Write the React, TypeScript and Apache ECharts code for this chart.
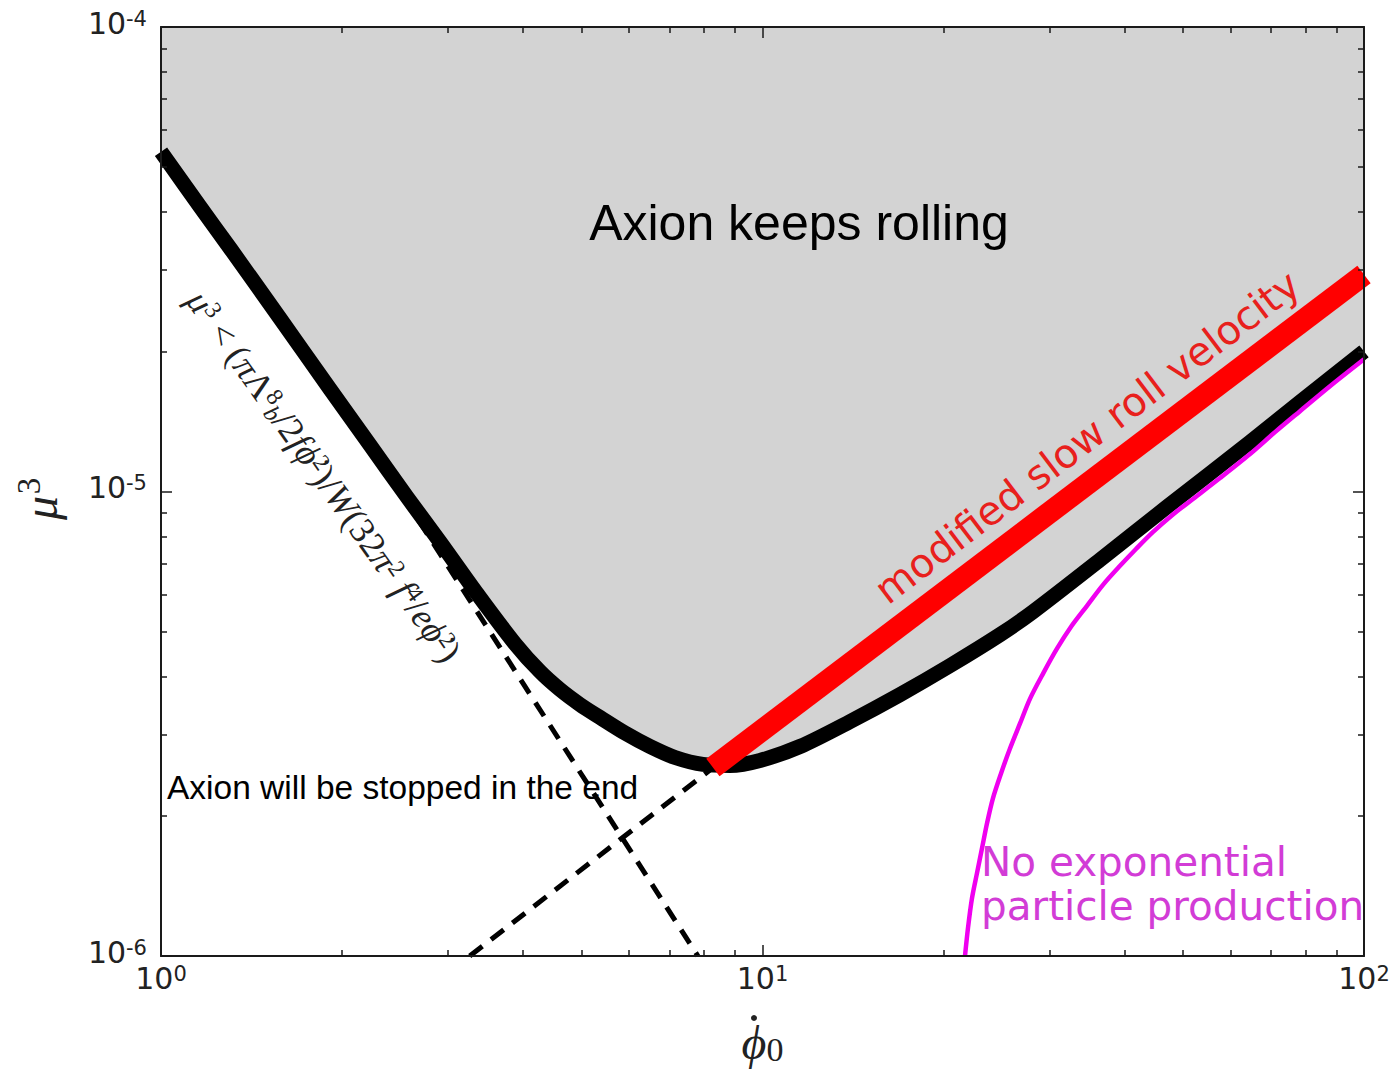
import React, { useEffect, useRef } from 'react';
import * as echarts from 'echarts';

// Axis decades and their exponent labels
const xDecades = [1, 10, 100];
const xExponents = ['0', '1', '2'];
const yDecades = [1e-6, 1e-5, 1e-4];
const yExponents = ['-6', '-5', '-4'];
const xMinor = [2, 3, 4, 5, 6, 7, 8, 9, 20, 30, 40, 50, 60, 70, 80, 90];
const yMinor = [2e-6, 3e-6, 4e-6, 5e-6, 6e-6, 7e-6, 8e-6, 9e-6, 2e-5, 3e-5, 4e-5, 5e-5, 6e-5, 7e-5, 8e-5, 9e-5];

// Boundary between "keeps rolling" and "stopped" regions
const boundaryX = [1, 1.161, 1.3073, 1.5771, 1.9097, 2.2261, 2.5645, 2.9103, 3.3651, 3.8771, 4.2668, 4.6058, 4.9724, 5.3679, 5.9075, 6.5022, 7.1554, 7.9626, 8.8313, 9.9047, 11.542, 13.977, 16.93, 20.5, 24.83, 28.17, 36.4, 47.03, 64.64, 78.27, 100];
const boundaryY = [5.389e-5, 4.104e-5, 3.319e-5, 2.359e-5, 1.661e-5, 1.2587e-5, 9.731e-6, 7.788e-6, 5.992e-6, 4.703e-6, 4.095e-6, 3.746e-6, 3.478e-6, 3.263e-6, 3.02e-6, 2.825e-6, 2.675e-6, 2.585e-6, 2.572e-6, 2.636e-6, 2.825e-6, 3.197e-6, 3.654e-6, 4.218e-6, 4.918e-6, 5.51e-6, 7.126e-6, 9.262e-6, 1.277e-5, 1.557e-5, 2.004e-5];

// Modified slow-roll velocity line and its dashed continuation
const slowRollX = [8.27, 100];
const slowRollY = [2.547e-6, 2.932e-5];
const slowRollExtX = [3.26, 8.2];
const slowRollExtY = [1e-6, 2.52e-6];

// Dashed asymptote of the left branch
const leftAsymX = [2.269, 7.81];
const leftAsymY = [1.213e-5, 1e-6];

// Onset of exponential particle production
const particleX = [21.71, 21.96, 22.3, 22.73, 23.17, 23.62, 24.16, 24.92, 25.79, 26.8, 27.85, 29.27, 30.87, 32.58, 34.63, 36.82, 39.3, 41.78, 44.6, 48.13, 51.96, 57.63, 64.64, 71.13, 78.27, 87.78, 100];
const particleY = [1e-6, 1.1487e-6, 1.332e-6, 1.508e-6, 1.706e-6, 1.931e-6, 2.185e-6, 2.472e-6, 2.797e-6, 3.167e-6, 3.582e-6, 4.055e-6, 4.588e-6, 5.116e-6, 5.675e-6, 6.296e-6, 6.918e-6, 7.521e-6, 8.185e-6, 8.925e-6, 9.636e-6, 1.069e-5, 1.204e-5, 1.342e-5, 1.489e-5, 1.685e-5, 1.926e-5];

const zip = (xs: number[], ys: number[]) => xs.map((x, i) => [x, ys[i]]);

const SANS = "'DejaVu Sans', sans-serif";
const HELV = "'Liberation Sans', Arial, sans-serif";
const SERIF = "'Liberation Serif', 'DejaVu Serif', serif";
const AXIS_COLOR = '#1a1a1a';

const tickRich = {
  b: { fontFamily: SANS, fontSize: 30, color: '#222' },
  s: { fontFamily: SANS, fontSize: 21, color: '#222', verticalAlign: 'top' },
};

function makeXAxis(position: 'bottom' | 'top', minor: boolean, withLabels: boolean) {
  return {
    type: 'log',
    logBase: 10,
    min: 1,
    max: 100,
    position,
    z: 5,
    axisLine: { show: !minor, onZero: false, lineStyle: { color: AXIS_COLOR, width: 2 } },
    axisTick: {
      show: true,
      inside: true,
      length: minor ? 6 : 11,
      customValues: minor ? xMinor : xDecades,
      lineStyle: { color: AXIS_COLOR, width: 1.5 },
    },
    axisLabel: withLabels
      ? {
          show: true,
          customValues: xDecades,
          margin: 7,
          formatter: (v: number) => {
            const i = xDecades.findIndex((d) => Math.abs(d - v) / d < 1e-6);
            return `{b|10}{s|${xExponents[i]}}`;
          },
          rich: tickRich,
        }
      : { show: false },
    splitLine: { show: false },
    minorTick: { show: false },
    ...(withLabels
      ? {
          name: '{p|ϕ}{s|0}',
          nameLocation: 'middle',
          nameGap: 62,
          nameTextStyle: {
            rich: {
              p: { fontFamily: SERIF, fontStyle: 'italic', fontSize: 48, color: '#222' },
              s: { fontFamily: SERIF, fontSize: 34, color: '#222', verticalAlign: 'bottom' },
            },
          },
        }
      : {}),
  };
}

function makeYAxis(position: 'left' | 'right', minor: boolean, withLabels: boolean) {
  return {
    type: 'log',
    logBase: 10,
    min: 1e-6,
    max: 1e-4,
    position,
    z: 5,
    axisLine: { show: !minor, onZero: false, lineStyle: { color: AXIS_COLOR, width: 2 } },
    axisTick: {
      show: true,
      inside: true,
      length: minor ? 6 : 11,
      customValues: minor ? yMinor : yDecades,
      lineStyle: { color: AXIS_COLOR, width: 1.5 },
    },
    axisLabel: withLabels
      ? {
          show: true,
          customValues: yDecades,
          margin: 14,
          padding: [0, 0, 8, 0],
          formatter: (v: number) => {
            const i = yDecades.findIndex((d) => Math.abs(d - v) / d < 1e-6);
            return `{b|10}{s|${yExponents[i]}}`;
          },
          rich: tickRich,
        }
      : { show: false },
    splitLine: { show: false },
    minorTick: { show: false },
  };
}

export default function App() {
  const ref = useRef<HTMLDivElement>(null);

  useEffect(() => {
    document.body.style.margin = '0';
    if (!ref.current) return;
    const chart = echarts.init(ref.current, null, { renderer: 'svg' });

    const boundary = zip(boundaryX, boundaryY);

    chart.setOption({
      animation: false,
      backgroundColor: '#ffffff',
      grid: {
        left: 161,
        top: 27,
        width: 1203,
        height: 931,
        show: true,
        backgroundColor: '#d3d3d3',
        borderWidth: 0,
      },
      xAxis: [
        makeXAxis('bottom', false, true),
        makeXAxis('bottom', true, false),
        makeXAxis('top', false, false),
        makeXAxis('top', true, false),
      ],
      yAxis: [
        makeYAxis('left', false, true),
        makeYAxis('left', true, false),
        makeYAxis('right', false, false),
        makeYAxis('right', true, false),
      ],
      series: [
        {
          // white region below the boundary
          type: 'line',
          name: 'stopped region',
          data: boundary,
          smooth: 0.3,
          symbol: 'none',
          lineStyle: { width: 0, opacity: 0 },
          areaStyle: { color: '#ffffff', opacity: 1, origin: 'start' },
          silent: true,
        },
        {
          type: 'line',
          name: 'left asymptote',
          data: zip(leftAsymX, leftAsymY),
          symbol: 'none',
          lineStyle: { color: '#000', width: 5, type: [16, 11], cap: 'butt' },
        },
        {
          type: 'line',
          name: 'slow roll extension',
          data: zip(slowRollExtX, slowRollExtY),
          symbol: 'none',
          lineStyle: { color: '#000', width: 5, type: [16, 11], cap: 'butt' },
        },
        {
          type: 'line',
          name: 'boundary',
          data: boundary,
          smooth: 0.3,
          symbol: 'none',
          lineStyle: { color: '#000', width: 15, cap: 'butt', join: 'round' },
        },
        {
          type: 'line',
          name: 'modified slow roll velocity',
          data: zip(slowRollX, slowRollY),
          symbol: 'none',
          lineStyle: { color: '#ff0000', width: 22, cap: 'butt' },
        },
        {
          type: 'line',
          name: 'particle production',
          data: zip(particleX, particleY),
          smooth: 0.3,
          symbol: 'none',
          lineStyle: { color: '#f000f0', width: 4.5, join: 'round' },
        },
      ],
      graphic: [
        {
          // time-derivative dot over the x-axis symbol
          type: 'circle',
          shape: { cx: 754, cy: 1018, r: 3 },
          style: { fill: '#222' },
          z: 50,
        },
        {
          // y-axis title: mu cubed
          type: 'text',
          x: 40,
          y: 508,
          rotation: Math.PI / 2,
          z: 50,
          style: {
            text: 'μ',
            font: `italic 48px ${SERIF}`,
            fill: '#222',
            align: 'center',
            verticalAlign: 'middle',
          },
        },
        {
          type: 'text',
          x: 29,
          y: 486,
          rotation: Math.PI / 2,
          z: 50,
          style: {
            text: '3',
            font: `33px ${SERIF}`,
            fill: '#222',
            align: 'center',
            verticalAlign: 'middle',
          },
        },
        {
          type: 'text',
          x: 799,
          y: 223,
          z: 50,
          style: {
            text: 'Axion keeps rolling',
            font: `50px ${HELV}`,
            fill: '#000',
            align: 'center',
            verticalAlign: 'middle',
          },
        },
        {
          type: 'text',
          x: 167,
          y: 787,
          z: 50,
          style: {
            text: 'Axion will be stopped in the end',
            font: `33.5px ${HELV}`,
            fill: '#000',
            align: 'left',
            verticalAlign: 'middle',
          },
        },
        {
          type: 'text',
          x: 1087,
          y: 437,
          z: 50,
          rotation: (37.2 * Math.PI) / 180,
          style: {
            text: 'modified slow roll velocity',
            font: `40px ${SANS}`,
            fill: '#e8201c',
            align: 'center',
            verticalAlign: 'middle',
          },
        },
        {
          type: 'text',
          x: 981,
          y: 884,
          z: 50,
          style: {
            text: 'No exponential\nparticle production',
            font: `40.5px ${SANS}`,
            lineHeight: 44,
            fill: '#d23cd6',
            align: 'left',
            verticalAlign: 'middle',
          },
        },
        {
          type: 'text',
          x: 324,
          y: 476,
          z: 50,
          rotation: (-54.6 * Math.PI) / 180,
          style: {
            text: '{i|μ}{p|3}{r| < (}{i|π}{r|Λ}{p|8}{b|b}{r|/2}{i|fϕ̇}{p|2}{r|)/}{i|W}{r|(32}{i|π}{p|2}{i| f}{p|4}{r|/}{i|eϕ̇}{p|2}{r|)}',
            align: 'center',
            verticalAlign: 'middle',
            rich: {
              i: { fontFamily: SERIF, fontStyle: 'italic', fontSize: 36, fill: '#222' },
              r: { fontFamily: SERIF, fontSize: 36, fill: '#222' },
              p: { fontFamily: SERIF, fontSize: 24, fill: '#222', verticalAlign: 'top' },
              b: { fontFamily: SERIF, fontStyle: 'italic', fontSize: 24, fill: '#222', verticalAlign: 'bottom' },
            },
          },
        },
      ],
    });

    return () => chart.dispose();
  }, []);

  return <div ref={ref} style={{ width: 1396, height: 1071 }} />;
}
